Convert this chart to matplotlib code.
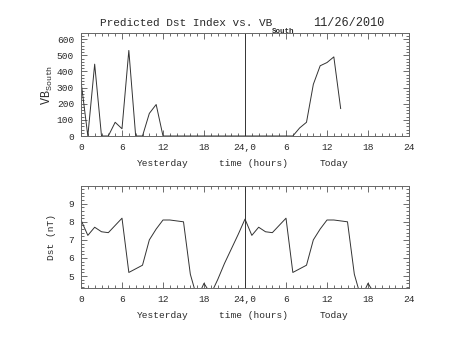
import matplotlib
matplotlib.use("Agg")
import matplotlib.pyplot as plt
from matplotlib.ticker import MultipleLocator, FixedLocator

plt.rcParams['font.family'] = ['Liberation Mono', 'DejaVu Sans']
plt.rcParams['mathtext.fontset'] = 'custom'
plt.rcParams['mathtext.rm'] = 'Liberation Mono'

# ---- data ----
vb_hours = list(range(0, 39))
vb_values = [340, 0, 445, 0, 0, 85, 45, 530, 0, 0, 140, 195, 0,
             0, 0, 0, 0, 0, 0, 0, 0, 0, 0, 0, 0,
             0, 0, 0, 0, 0, 0, 0, 50, 85, 320, 435, 455, 490, 170]

dst_hours = list(range(0, 44))
dst_values = [8.1, 7.25, 7.7, 7.45, 7.4, 7.8, 8.2, 5.2, 5.4, 5.6, 7.0, 7.6,
              8.1, 8.1, 8.05, 8.0, 5.1, 3.77, 4.6, 4.0, 4.8, 5.7, 6.5, 7.3,
              8.15, 7.25, 7.7, 7.45, 7.4, 7.8, 8.2, 5.2, 5.4, 5.6, 7.0, 7.6,
              8.1, 8.1, 8.05, 8.0, 5.1, 3.77, 4.6, 4.0]

xticks = [0, 6, 12, 18, 24, 30, 36, 42, 48]
xticklabels = ['0', '6', '12', '18', '24,0', '6', '12', '18', '24']
vb_yticks = [0, 100, 200, 300, 400, 500, 600]
dst_yticks = [5, 6, 7, 8, 9]
title_main = 'Predicted Dst Index vs. VB'
title_sub = 'South'
title_date = '11/26/2010'

W, H = 453, 340
fig = plt.figure(figsize=(W / 100, H / 100), dpi=100)
fig.patch.set_facecolor('white')

ax1 = fig.add_axes([81 / W, 1 - 136 / H, 328 / W, 103 / H])
ax2 = fig.add_axes([81 / W, 1 - 288 / H, 328 / W, 102 / H])

LC = '#333333'
TC = '#2a2a2a'
FS = 6.8

def style(ax, ylim, minor_y):
    ax.set_xlim(0, 48)
    ax.set_ylim(*ylim)
    ax.xaxis.set_major_locator(FixedLocator(xticks))
    ax.set_xticklabels(xticklabels)
    ax.xaxis.set_minor_locator(MultipleLocator(1))
    ax.yaxis.set_minor_locator(MultipleLocator(minor_y))
    ax.tick_params(which='both', direction='in', top=True, right=True,
                   colors='#555555', labelcolor=TC, labelsize=FS,
                   width=0.6)
    ax.tick_params(which='major', length=4.5, pad=5)
    ax.tick_params(which='minor', length=2)
    for s in ax.spines.values():
        s.set_color('#666666')
        s.set_linewidth(0.7)
    ax.axvline(24, color=LC, lw=0.7)
    tr = ax.get_xaxis_transform()
    ax.text(12, -0.27, 'Yesterday', transform=tr,
            ha='center', va='center', fontsize=FS, color=TC)
    ax.text(25.2, -0.27, 'time (hours)', transform=tr,
            ha='center', va='center', fontsize=FS, color=TC)
    ax.text(37, -0.27, 'Today', transform=tr,
            ha='center', va='center', fontsize=FS, color=TC)

ax1.plot(vb_hours, vb_values, color=LC, lw=0.7)
style(ax1, (0, 638), 20)
ax1.set_yticks(vb_yticks)
ax1.set_ylabel(r'VB$_{\mathrm{South}}$', fontsize=8.5, color=TC, labelpad=1)

ax2.plot(dst_hours, dst_values, color=LC, lw=0.7)
style(ax2, (4.34, 9.98), 0.2)
ax2.set_yticks(dst_yticks)
ax2.set_ylabel('Dst (nT)', fontsize=FS, color=TC, labelpad=9)

fig.text(100 / W, 1 - 23 / H, title_main, ha='left', va='center',
         fontsize=8.0, color=TC)
fig.text(272 / W, 1 - 31.5 / H, title_sub, ha='left', va='center',
         fontsize=5.4, color=TC, fontweight='bold')
fig.text(384 / W, 1 - 23 / H, title_date, ha='right', va='center',
         fontsize=8.6, color=TC)

fig.savefig('out.png', dpi=100)
